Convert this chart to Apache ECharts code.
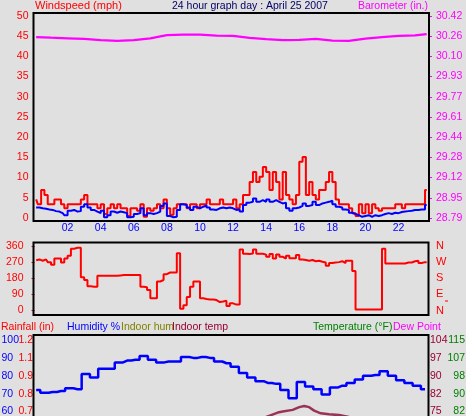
<!DOCTYPE html>
<html><head><meta charset="utf-8">
<script src="https://cdn.jsdelivr.net/npm/echarts@6/dist/echarts.min.js"></script>
<style>html,body{margin:0;padding:0;background:#e0e0e0;overflow:hidden}#c{width:466px;height:416px}</style>
</head><body><div id="c"></div>
<script>
// ---- data ----
const hourTicks = [2,4,6,8,10,12,14,16,18,20,22];
const windStart = 0.1, windStep = 0.2; // sampling grid (hours)
const gust = [4.6,3.4,6.9,5.7,3.4,3.4,4.6,4.6,3.4,2.4,
 3.4,3.4,3.4,3.4,4.6,5.7,3.4,3.4,3.4,2.4,
 3.4,1.0,2.4,3.4,2.4,3.4,2.4,2.4,0.5,2.4,
 2.4,1.8,3.4,0.3,2.4,1.8,2.4,3.4,2.4,4.6,
 2.4,0.8,2.4,3.4,3.4,3.4,2.4,3.4,3.4,2.4,
 3.4,3.4,4.6,3.4,3.4,3.4,4.6,3.4,3.4,3.4,
 4.6,2.4,3.4,5.7,5.7,8.9,11.4,8.9,10.2,12.6,
 11.4,6.9,11.4,8.9,4.6,11.4,5.7,4.6,3.4,5.7,
 13.9,15.1,5.7,8.9,5.7,4.6,6.9,6.9,8.9,11.4,
 8.9,4.6,3.4,3.4,3.4,2.4,1.2,0.5,3.4,1.2,
 3.4,1.2,3.4,2.4,1.8,2.4,2.4,2.4,2.4,3.4,
 3.4,2.4,3.4,3.4,3.4,3.4,3.4,3.4,6.9];
const avgWind = [2.6,2.6,2.4,2.3,2.1,2.0,1.7,1.6,1.2,0.7,
 1.8,2.0,1.6,1.7,2.8,3.4,2.6,2.0,1.6,1.2,
 1.8,0.2,0.7,1.6,1.3,1.6,1.4,1.2,0.2,0.3,
 1.0,1.2,2.4,0.7,1.2,1.0,1.2,1.6,3.0,3.6,
 0.5,0.2,0.3,2.0,3.4,3.2,2.6,2.0,2.8,2.4,
 2.8,3.1,2.6,2.1,2.0,2.4,2.6,2.4,2.6,2.4,
 2.0,2.1,1.6,3.2,3.8,4.0,4.8,4.0,4.4,4.0,
 4.6,4.0,4.4,4.0,3.6,3.8,2.4,1.8,2.4,2.6,
 3.0,3.6,3.0,3.2,4.0,3.2,3.6,3.8,4.0,4.3,
 3.4,2.8,2.6,2.1,2.0,1.3,1.0,0.7,0.3,0.5,
 0.7,0.3,0.7,0.5,0.7,1.0,1.2,1.0,1.3,1.2,
 1.5,1.6,1.7,1.8,2.0,2.0,2.1,2.1,3.2];
const windDir = [280,285,278,285,270,256,290,290,268,290,
 305,345,350,350,185,170,135,133,133,194,
 194,194,194,194,194,196,198,198,198,198,
 198,198,133,130,115,68,68,162,170,203,
 212,212,212,320,10,30,75,132,162,162,
 68,64,61,61,58,47,50,55,25,40,
 33,33,340,317,315,318,340,317,317,312,
 300,315,290,312,300,290,305,292,292,310,
 285,282,278,282,275,278,272,268,250,265,
 268,270,275,265,278,278,220,6,6,6,
 6,6,6,6,6,345,262,262,262,262,
 262,262,268,268,275,278,265,270,270];
const baroHours = [0.1,1,2,3,4,5,6,7,8,9,10,11,12,13,14,15,16,17,18,19,20,21,22,23,23.7];
const baro = [30.25,30.245,30.24,30.235,30.225,30.22,30.225,30.24,30.265,30.27,30.27,30.262,30.26,30.243,30.233,30.225,30.228,30.235,30.222,30.22,30.238,30.25,30.26,30.263,30.273];
const humStart = 0.1, humStep = 0.5;
const humidity = [72,70.5,71,71.5,73,72.5,81,79,84,84,87.5,88.5,89,91,89,87.5,88,88,90.5,90,90.5,90,88,87,85,81.5,79,77,76,75.5,72,67.5,76.5,74,72.5,69.5,73.5,74.5,76,78,80,80.5,82.5,80,77.5,76,74.5,72.5];
const indoorHours = [0.1,4,8,12,13,14,14.3,14.7,15.0,15.6,16.0,16.3,16.6,16.9,17.3,17.8,18.4,19,20,22,23.7];
const indoorTemp = [71,70.5,70,71,71.8,72.8,73.6,74.6,75.0,75.7,76.8,77.3,76.8,75.4,74.3,73.9,73.6,72.8,72,71.5,71];
// tick label lists
const baroLabels = ['28.79','28.95','29.12','29.28','29.44','29.61','29.77','29.93','30.10','30.26','30.42'];
const compassLabels = ['N','E','S','W','N'];
const humTicks = [60,70,80,90,100];
const rainLabels = ['0.7','0.8','0.9','1.1','1.2'];
const indoorLabels = ['75','82','90','97','104'];
const tempLabels = ['82','90','98','107','115'];

// ---- build ----
const F = "'Liberation Sans', Arial, sans-serif";
const pairs = (start, step, arr) => arr.map((v, i) => [start + step * i, v]);
const zip = (xs, ys) => xs.map((x, i) => [x, ys[i]]);
const lbl = (ticks, labels) => v => { const i = ticks.indexOf(Math.round(v)); return i >= 0 ? labels[i] : ''; };

const L = 34.5, W = 394.5, XMAX = 23.84;
const grids = [
  {left: L, top: 16, width: W, height: 202, outerBoundsMode: 'none', containLabel: false},
  {left: L, top: 246, width: W, height: 64.5, outerBoundsMode: 'none', containLabel: false},
  {left: L, top: 340, width: W, height: 179, outerBoundsMode: 'none', containLabel: false}
];
const xAx = (gi, show) => ({
  type: 'value', gridIndex: gi, min: 0, max: XMAX, interval: 2,
  axisLine: {show: false}, axisTick: {show: false}, splitLine: {show: false},
  axisLabel: {show: show, color: '#0000ff', fontFamily: F, fontSize: 10.5, margin: 5,
    showMinLabel: false, showMaxLabel: false,
    formatter: v => hourTicks.indexOf(v) >= 0 ? String(v).padStart(2, '0') : ''}
});
const yBase = (gi, pos, min, max, interval, color, extra) => Object.assign({
  type: 'value', gridIndex: gi, position: pos, min, max, interval,
  axisLine: {show: false}, splitLine: {show: false}, axisTick: {show: false},
  axisLabel: {color, fontFamily: F, fontSize: 10.5}
}, extra || {});

const option = {
  backgroundColor: '#e0e0e0',
  animation: false,
  grid: grids,
  xAxis: [xAx(0, true), xAx(1, false), xAx(2, false)],
  yAxis: [
    yBase(0, 'left', 0, 50, 5, '#ff0000', {axisLabel: {color: '#ff0000', fontFamily: F, fontSize: 10.5, margin: 6}}),
    yBase(0, 'right', 0, 50, 5, '#ff00ff', {
      axisTick: {show: true, length: 3, lineStyle: {color: '#ff00ff'}},
      axisLabel: {color: '#ff00ff', fontFamily: F, fontSize: 10.5, margin: 7, formatter: v => baroLabels[Math.round(v / 5)]}}),
    {type: 'value', gridIndex: 0, min: 28.79, max: 30.42, show: false},
    yBase(1, 'left', 0, 360, 90, '#ff0000', {
      axisTick: {show: true, length: 3, lineStyle: {color: '#ff0000'}},
      axisLabel: {color: '#ff0000', fontFamily: F, fontSize: 10.5, margin: 11}}),
    yBase(1, 'right', 0, 360, 90, '#ff0000', {
      axisLabel: {color: '#ff0000', fontFamily: F, fontSize: 11, margin: 7, formatter: v => compassLabels[Math.round(v / 90)]}}),
    yBase(2, 'left', 0, 100, 10, '#0000ff', {
      axisLabel: {color: '#0000ff', fontFamily: F, fontSize: 10.5, margin: 33, align: 'left'}}),
    yBase(2, 'left', 0, 100, 10, '#ff0000', {
      axisLabel: {color: '#ff0000', fontFamily: F, fontSize: 10.5, margin: 1.5, formatter: lbl(humTicks, rainLabels)}}),
    yBase(2, 'right', 0, 100, 10, '#990033', {
      axisLabel: {color: '#990033', fontFamily: F, fontSize: 10.5, margin: 1, align: 'left', formatter: lbl(humTicks, indoorLabels)}}),
    yBase(2, 'right', 0, 100, 10, '#008000', {
      axisLabel: {color: '#008000', fontFamily: F, fontSize: 10.5, margin: 36, align: 'right', formatter: lbl(humTicks, tempLabels)}}),
    {type: 'value', gridIndex: 2, min: 31.5, max: 104, show: false}
  ],
  series: [
    {type: 'line', xAxisIndex: 0, yAxisIndex: 2, data: zip(baroHours, baro), showSymbol: false,
      lineStyle: {color: '#ff00ff', width: 2.3}, itemStyle: {color: '#ff00ff'}},
    {type: 'line', xAxisIndex: 0, yAxisIndex: 0, data: pairs(windStart, windStep, gust), step: 'middle', showSymbol: false,
      lineStyle: {color: '#ff0000', width: 2}, itemStyle: {color: '#ff0000'}},
    {type: 'line', xAxisIndex: 0, yAxisIndex: 0, data: pairs(windStart, windStep, avgWind), step: 'middle', showSymbol: false,
      lineStyle: {color: '#0000ff', width: 2}, itemStyle: {color: '#0000ff'}},
    {type: 'line', xAxisIndex: 1, yAxisIndex: 3, data: pairs(windStart, windStep, windDir), step: 'middle', showSymbol: false,
      lineStyle: {color: '#ff0000', width: 2}, itemStyle: {color: '#ff0000'}},
    {type: 'line', xAxisIndex: 2, yAxisIndex: 5, data: pairs(humStart, humStep, humidity), step: 'middle', showSymbol: false,
      lineStyle: {color: '#0000ff', width: 2.5}, itemStyle: {color: '#0000ff'}},
    {type: 'line', xAxisIndex: 2, yAxisIndex: 9, data: zip(indoorHours, indoorTemp), showSymbol: false,
      lineStyle: {color: '#993355', width: 2.5}, itemStyle: {color: '#993355'}}
  ],
  graphic: [
    {type: 'rect', shape: {x: 33.5, y: 13, width: 395.5, height: 208}, style: {fill: null, stroke: '#000', lineWidth: 2}, z: 100},
    {type: 'rect', shape: {x: 33.5, y: 242.5, width: 395, height: 72.5}, style: {fill: null, stroke: '#000', lineWidth: 2}, z: 100},
    {type: 'rect', shape: {x: 33.5, y: 335, width: 395, height: 120}, style: {fill: null, stroke: '#000', lineWidth: 2}, z: 100},
    {type: 'text', x: 35, y: 6, style: {text: 'Windspeed (mph)', fill: '#ff0000', font: "11px " + F, verticalAlign: 'middle'}},
    {type: 'text', x: 172, y: 6, style: {text: '24 hour graph day : April 25 2007', fill: '#000066', font: "10.5px " + F, verticalAlign: 'middle'}},
    {type: 'text', x: 428, y: 6, style: {text: 'Barometer (in.)', fill: '#ff00ff', font: "10.5px " + F, verticalAlign: 'middle', align: 'right'}},
    {type: 'text', x: 1, y: 327, style: {text: 'Rainfall (in)', fill: '#ff0000', font: "10.5px " + F, verticalAlign: 'middle'}},
    {type: 'text', x: 67, y: 327, style: {text: 'Humidity %', fill: '#0000ff', font: "10.5px " + F, verticalAlign: 'middle'}},
    {type: 'text', x: 121, y: 327, style: {text: 'Indoor hum', fill: '#808000', font: "10.5px " + F, verticalAlign: 'middle'}},
    {type: 'text', x: 172, y: 327, style: {text: 'Indoor temp', fill: '#990033', font: "10.5px " + F, verticalAlign: 'middle'}},
    {type: 'text', x: 313, y: 327, style: {text: 'Temperature (°F)', fill: '#008000', font: "10.5px " + F, verticalAlign: 'middle'}},
    {type: 'text', x: 393, y: 327, style: {text: 'Dew Point', fill: '#ff00ff', font: "10.5px " + F, verticalAlign: 'middle'}},
    {type: 'line', shape: {x1: 445, y1: 301, x2: 448, y2: 301}, style: {stroke: '#ff0000', lineWidth: 1}}
  ]
};
const chart = echarts.init(document.getElementById('c'), null, {renderer: 'canvas'});
chart.setOption(option);
</script></body></html>
